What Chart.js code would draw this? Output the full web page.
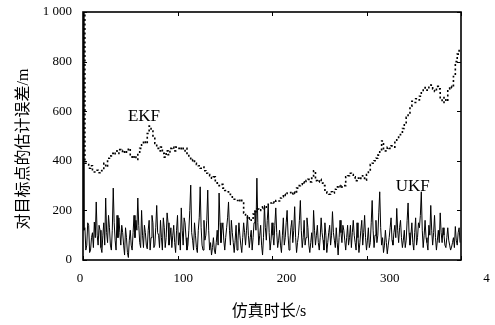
<!DOCTYPE html>
<html>
<head>
<meta charset="utf-8">
<script src="https://cdn.jsdelivr.net/npm/chart.js@4.4.0/dist/chart.umd.min.js"></script>
<style>
html,body{margin:0;padding:0;background:#fff;}
#c{display:block;}
</style>
</head>
<body>
<canvas id="c" width="490" height="325"></canvas>
<script>
// ---- data ----
const ekfTimes = [0,2,4,6,8,10,12,14,16,18,20,22,24,26,28,30,32,34,36,38,40,42,44,46,48,50,52,54,56,58,60,62,64,66,68,70,72,74,76,78,80,82,84,86,88,90,92,94,96,98,100,102,104,106,108,110,112,114,116,118,120,122,124,126,128,130,132,134,136,138,140,142,144,146,148,150,152,154,156,158,160,162,164,166,168,170,172,174,176,178,180,182,184,186,188,190,192,194,196,198,200,202,204,206,208,210,212,214,216,218,220,222,224,226,228,230,232,234,236,238,240,242,244,246,248,250,252,254,256,258,260,262,264,266,268,270,272,274,276,278,280,282,284,286,288,290,292,294,296,298,300,302,304,306,308,310,312,314,316,318,320,322,324,326,328,330,332,334,336,338,340,342,344,346,348,350,352,354,356,358,360,362,364,366,368,370,372,374,376,378,380,382,384,386,388,390,392,394,396,398];

const ekf = [1000,
390,385,370,380,360,355,362,352,360,365,
390,375,410,420,430,425,440,430,445,438,
442,430,445,450,425,410,420,405,430,450,
465,480,470,510,540,520,500,470,450,440,
455,430,415,440,425,450,455,440,455,450,
445,455,440,450,430,410,400,405,390,385,
380,370,375,360,350,345,340,330,335,320,
310,300,305,290,280,275,265,255,250,245,
240,235,245,230,190,175,165,170,160,185,
195,205,200,210,215,205,220,225,230,235,
230,240,238,250,255,265,260,270,272,265,
275,268,290,300,305,315,310,320,325,315,
330,360,320,315,325,310,300,275,270,265,
275,270,285,295,300,290,298,300,335,340,
350,345,335,320,330,325,340,330,322,345,
360,385,390,400,410,423,445,480,445,440,
455,450,460,455,480,490,505,510,530,550,
575,590,620,640,635,650,645,660,680,690,
695,685,700,705,690,680,700,690,650,635,
655,640,690,700,695,740,800,830,850];

const ukfTimes = [
0,1,2,3,4,5,6,7,8,9,10,11,12,13,14,15,16,17,18,19,
20,21,22,23,24,25,26,27,28,29,30,31,32,33,34,35,36,37,38,39,
40,41,42,43,44,45,46,47,48,49,50,51,52,53,54,55,56,57,58,59,
60,61,62,63,64,65,66,67,68,69,70,71,72,73,74,75,76,77,78,79,
80,81,82,83,84,85,86,87,88,89,90,91,92,93,94,95,96,97,98,99,
100,101,102,103,104,105,106,107,108,109,110,111,112,113,114,115,116,117,118,119,
120,121,122,123,124,125,126,127,128,129,130,131,132,133,134,135,136,137,138,139,
140,141,142,143,144,145,146,147,148,149,150,151,152,153,154,155,156,157,158,159,
160,161,162,163,164,165,166,167,168,169,170,171,172,173,174,175,176,177,178,179,
180,181,182,183,184,185,186,187,188,189,190,191,192,193,194,195,196,197,198,199,
200,201,202,203,204,205,206,207,208,209,210,211,212,213,214,215,216,217,218,219,
220,221,222,223,224,225,226,227,228,229,230,231,232,233,234,235,236,237,238,239,
240,241,242,243,244,245,246,247,248,249,250,251,252,253,254,255,256,257,258,259,
260,261,262,263,264,265,266,267,268,269,270,271,272,273,274,275,276,277,278,279,
280,281,282,283,284,285,286,287,288,289,290,291,292,293,294,295,296,297,298,299,
300,301,302,303,304,305,306,307,308,309,310,311,312,313,314,315,316,317,318,319,
320,321,322,323,324,325,326,327,328,329,330,331,332,333,334,335,336,337,338,339,
340,341,342,343,344,345,346,347,348,349,350,351,352,353,354,355,356,357,358,359,
360,361,362,363,364,365,366,367,368,369,370,371,372,373,374,375,376,377,378,379,
380,381,382,383,384,385,386,387,388,389,390,391,392,393,394,395,396,397,398,399];

const ukf = [
1000,120,130,40,60,150,140,30,40,90,110,50,153,90,234,100,60,140,120,50,
30,100,150,60,250,110,70,180,130,60,40,120,290,150,80,40,180,90,170,110,
60,140,110,60,20,130,90,30,10,80,120,60,40,110,180,90,160,120,250,140,
70,50,200,100,50,140,110,60,45,120,160,40,90,180,150,50,60,130,220,110,
100,50,160,90,40,170,130,50,90,190,150,60,90,130,50,100,140,70,30,120,
180,60,110,40,210,120,60,170,150,90,40,60,120,200,302,110,80,40,150,100,
50,30,120,170,295,130,60,40,160,80,100,160,282,120,40,70,20,50,90,40,
25,70,120,60,270,150,70,120,150,80,40,90,130,170,234,120,60,160,110,70,
30,80,140,40,80,150,100,60,30,90,150,110,60,120,180,100,50,90,120,40,
90,150,200,120,330,150,60,100,140,60,20,90,220,130,80,160,220,110,40,80,
150,100,60,140,210,110,50,80,120,60,30,100,170,60,90,150,200,100,40,80,
130,160,70,120,215,90,30,70,100,160,240,120,50,90,160,60,90,170,130,60,
30,70,110,50,200,120,60,100,140,70,40,90,170,110,80,40,150,100,30,70,
110,140,60,100,195,110,80,50,130,70,20,90,160,110,70,140,120,80,40,90,
140,60,90,140,50,110,160,100,70,40,150,90,30,70,120,160,60,110,180,90,
40,80,130,50,70,150,240,120,50,100,160,70,100,190,275,130,60,90,30,60,
120,70,25,60,90,130,170,80,60,110,140,90,208,120,70,130,160,90,50,80,
120,50,80,160,230,110,60,100,150,70,40,110,170,60,90,150,130,180,275,120,
50,100,160,90,70,40,140,100,220,120,60,110,180,90,40,80,120,70,190,110,
70,130,100,60,50,90,130,80,60,40,52,70,90,50,135,80,60,110,130,70];

const yTicks = [0,200,400,600,800,1000];
const xTicks = [0,100,200,300,400];
const seriesLabels = ['EKF','UKF'];
const xTitle = '仿真时长/s';
const yTitle = '对目标点的估计误差/m';
// annotation anchors in data units
const seriesNotes = [{text:'EKF', x:64.5, y:577}, {text:'UKF', x:349, y:298}];

const SERIF = '"Liberation Serif", "Times New Roman", serif';
const MIXED = '"Liberation Serif", "Noto Sans CJK SC", serif';

const toPts = (ts, vals) => vals.map((v,i)=>({x:ts[i], y:v}));

const decor = {
  id:'decor',
  afterDatasetsDraw(chart){
    const {ctx, chartArea:a, scales} = chart;
    const x = scales.x, y = scales.y, xl = scales.xl;
    ctx.save();
    const line=(x1,y1,x2,y2)=>{ctx.beginPath();ctx.moveTo(x1,y1);ctx.lineTo(x2,y2);ctx.stroke();};
    ctx.strokeStyle='#000';
    ctx.lineWidth=1;
    xTicks.forEach(v=>{const p=Math.round(x.getPixelForValue(v))+0.5; line(p,a.bottom,p,a.bottom-4); line(p,a.top,p,a.top+4);});
    yTicks.forEach(v=>{const p=Math.round(y.getPixelForValue(v))+0.5; line(a.left,p,a.left+4,p); line(a.right,p,a.right-4,p);});
    ctx.lineWidth=1.6;
    ctx.strokeRect(a.left, a.top, a.right-a.left, a.bottom-a.top);
    // x tick labels
    ctx.fillStyle='#000';
    ctx.font='13px '+SERIF;
    ctx.textAlign='center'; ctx.textBaseline='middle';
    xTicks.forEach(v=>ctx.fillText(String(v), xl.getPixelForValue(v), a.bottom+19));
    // series notes
    ctx.font='17px '+SERIF;
    seriesNotes.forEach(n=>ctx.fillText(n.text, x.getPixelForValue(n.x), y.getPixelForValue(n.y)));
    // axis titles
    ctx.font='16px '+MIXED;
    ctx.fillText(xTitle, (a.left+a.right)/2-3, a.bottom+52);
    ctx.translate(24, (a.top+a.bottom)/2+13);
    ctx.rotate(-Math.PI/2);
    ctx.fillText(yTitle, 0, 0);
    ctx.restore();
  }
};

new Chart(document.getElementById('c'), {
  type:'line',
  data:{
    datasets:[
      {label:seriesLabels[1], data:toPts(ukfTimes, ukf), borderColor:'#000', borderWidth:1, pointRadius:0, tension:0, fill:false},
      {label:seriesLabels[0], data:toPts(ekfTimes, ekf), borderColor:'#000', borderWidth:1.6, borderDash:[2,2.5], stepped:'before', pointRadius:0, fill:false}
    ]
  },
  options:{
    responsive:false,
    animation:false,
    devicePixelRatio:1,
    layout:{padding:{top:12,right:29,left:0,bottom:0}},
    plugins:{legend:{display:false}, tooltip:{enabled:false}},
    scales:{
      x:{type:'linear', min:0, max:400, grid:{display:false}, border:{display:false},
         ticks:{display:false}, afterFit:s=>{s.height=65;}},
      xl:{type:'linear', position:'bottom', display:false, min:3, max:369},
      y:{type:'linear', min:0, max:1000, grid:{display:false}, border:{display:false},
         afterBuildTicks:s=>{s.ticks=yTicks.map(v=>({value:v}));},
         ticks:{color:'#000', padding:3, font:{family:SERIF, size:13},
                callback:v=>String(v).replace(/\B(?=(\d{3})+$)/g,' ')},
         afterFit:s=>{s.width=83;}}
    }
  },
  plugins:[decor]
});
</script>
</body>
</html>
